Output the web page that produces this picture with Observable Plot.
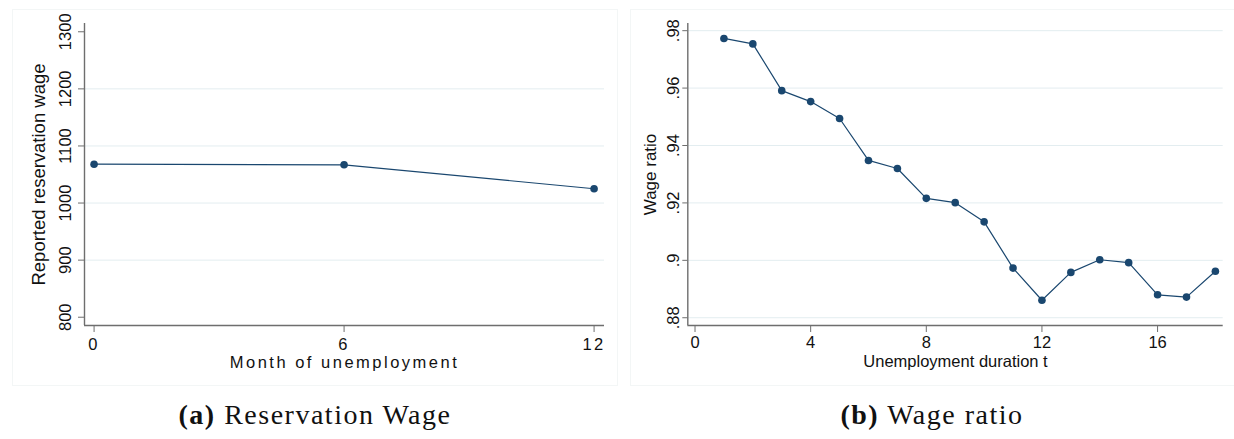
<!DOCTYPE html>
<html>
<head>
<meta charset="utf-8">
<script src="https://cdn.jsdelivr.net/npm/d3@7"></script>
<script src="https://cdn.jsdelivr.net/npm/@observablehq/plot@0.6"></script>
<style>
  html, body { margin: 0; padding: 0; background: #ffffff; }
  #wrap { position: relative; width: 1234px; height: 439px; overflow: hidden; background: #fff; }
  .panel { position: absolute; top: 9px; height: 377px; border: 1px solid #f3f6f6; box-sizing: border-box; }
  .chart { position: absolute; top: 0; }
  .cap { position: absolute; top: 401px; width: 630px; text-align: center;
         font-family: "Liberation Serif", "Times New Roman", serif; font-size: 28px;
         letter-spacing: 1.5px; line-height: 1; color: #111; white-space: nowrap; }
  .cap b { font-weight: bold; }
</style>
</head>
<body>
<div id="wrap">
  <div class="panel" style="left:12px;width:606px;"></div>
  <div class="panel" style="left:630px;width:620px;"></div>
  <div id="chartA" class="chart" style="left:0px;"></div>
  <div id="chartB" class="chart" style="left:617px;"></div>
  <div class="cap" style="left:0px;"><b>(a)</b> Reservation Wage</div>
  <div class="cap" style="left:617px;"><b>(b)</b> Wage ratio</div>
</div>
<script>
// ---------- Panel (a): Reservation wage ----------
const monthsA = [0, 6, 12];
const wageA = [1068, 1067, 1025];
const yTicksA = [800, 900, 1000, 1100, 1200, 1300];
const gridA = [900, 1000, 1100, 1200];
const xTicksA = [0, 6, 12];
const xDomainA = [-0.23, 12.25];
const yDomainA = [785.5, 1314.5];
const xTitleA = "Month of unemployment";
const yTitleA = "Reported reservation wage";

// ---------- Panel (b): Wage ratio ----------
const durationB = [1, 2, 3, 4, 5, 6, 7, 8, 9, 10, 11, 12, 13, 14, 15, 16, 17, 18];
const ratioB = [0.9773, 0.9754, 0.9591, 0.9553, 0.9494, 0.9348, 0.9320, 0.9216, 0.9201,
                0.9134, 0.8973, 0.8861, 0.8958, 0.9002, 0.8992, 0.8880, 0.8872, 0.8962];
const yTicksB = [0.88, 0.90, 0.92, 0.94, 0.96, 0.98];
const yTickLabelsB = [".88", ".9", ".92", ".94", ".96", ".98"];
const xTicksB = [0, 4, 8, 12, 16];
const xDomainB = [-0.25, 18.27];
const yDomainB = [0.8773, 0.9825];
const xTitleB = "Unemployment duration t";
const yTitleB = "Wage ratio";

const sans = "'Liberation Sans', Arial, Helvetica, sans-serif";
const axisColor = "#6e6e6e";
const gridColor = "#e3edf0";
const navy = "#1a476f";
const textColor = "#111";

const dataA = monthsA.map((m, i) => ({month: m, wage: wageA[i]}));
const dataB = durationB.map((t, i) => ({t, ratio: ratioB[i]}));

const chartA = Plot.plot({
  width: 617, height: 390,
  marginLeft: 84, marginRight: 13, marginTop: 23, marginBottom: 65,
  style: {fontFamily: sans, fontSize: "16.5px", color: textColor, background: "transparent", overflow: "visible"},
  x: {domain: xDomainA, axis: null},
  y: {domain: yDomainA, axis: null},
  marks: [
    Plot.ruleY(gridA, {stroke: gridColor, strokeWidth: 1}),
    Plot.ruleX([xDomainA[0]], {stroke: axisColor, strokeWidth: 1.4}),
    Plot.ruleY([yDomainA[0]], {stroke: axisColor, strokeWidth: 1.4}),
    Plot.axisY(yTicksA, {anchor: "left", tickSize: 6, tickPadding: 8, tickRotate: -90,
      stroke: axisColor, fill: textColor, label: null, tickFormat: d => String(d)}),
    Plot.axisX(xTicksA, {anchor: "bottom", tickSize: 7, tickPadding: 6,
      stroke: axisColor, fill: textColor, label: null, tickFormat: d => String(d)}),
    Plot.text([xTitleA], {text: d => d, frameAnchor: "bottom", lineAnchor: "top", dy: 31, fill: textColor}),
    Plot.text([yTitleA], {text: d => d, frameAnchor: "left", rotate: -90, textAnchor: "middle",
      lineAnchor: "bottom", dx: -40, fill: textColor, fontSize: 18.5}),
    Plot.line(dataA, {x: "month", y: "wage", stroke: navy, strokeWidth: 1.2}),
    Plot.dot(dataA, {x: "month", y: "wage", r: 3.8, fill: navy, stroke: "none"})
  ]
});

const chartB = Plot.plot({
  width: 617, height: 390,
  marginLeft: 70.3, marginRight: 11.3, marginTop: 23, marginBottom: 65,
  style: {fontFamily: sans, fontSize: "16.5px", color: textColor, background: "transparent", overflow: "visible"},
  x: {domain: xDomainB, axis: null},
  y: {domain: yDomainB, axis: null},
  marks: [
    Plot.ruleY(yTicksB, {stroke: gridColor, strokeWidth: 1}),
    Plot.ruleX([xDomainB[0]], {stroke: axisColor, strokeWidth: 1.4}),
    Plot.ruleY([yDomainB[0]], {stroke: axisColor, strokeWidth: 1.4}),
    Plot.axisY(yTicksB, {anchor: "left", tickSize: 5, tickPadding: 3.5, tickRotate: -90,
      stroke: axisColor, fill: textColor, label: null,
      tickFormat: d => yTickLabelsB[yTicksB.indexOf(d)]}),
    Plot.axisX(xTicksB, {anchor: "bottom", tickSize: 7, tickPadding: 4,
      stroke: axisColor, fill: textColor, label: null, tickFormat: d => String(d)}),
    Plot.text([xTitleB], {text: d => d, frameAnchor: "bottom", lineAnchor: "top", dy: 29.5, fill: textColor}),
    Plot.text([yTitleB], {text: d => d, frameAnchor: "left", rotate: -90, textAnchor: "middle",
      lineAnchor: "bottom", dx: -32, fill: textColor, fontSize: 17}),
    Plot.line(dataB, {x: "t", y: "ratio", stroke: navy, strokeWidth: 1.2}),
    Plot.dot(dataB, {x: "t", y: "ratio", r: 3.8, fill: navy, stroke: "none"})
  ]
});

document.getElementById("chartA").appendChild(chartA);
document.getElementById("chartB").appendChild(chartB);

// Panel (a) was stretched horizontally in the source: widen its horizontal texts.
chartA.querySelectorAll('g[aria-label="x-axis tick label"]').forEach(g => g.style.letterSpacing = "2.5px");
chartA.querySelectorAll("text").forEach(t => {
  if (t.textContent === xTitleA) t.style.letterSpacing = "2.5px";
});
</script>
</body>
</html>
